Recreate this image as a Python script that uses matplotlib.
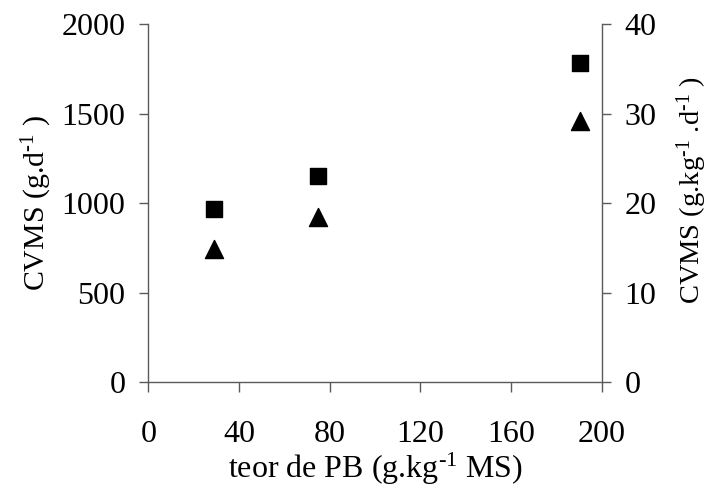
import matplotlib
matplotlib.use("Agg")
import matplotlib.pyplot as plt

# Crude protein content (g/kg DM)
teor_pb = [29.0, 75.0, 190.6]
# Dry matter intake, g/day (left axis, squares)
cvms_gd = [968, 1154, 1783]
# Dry matter intake, g/kg/day (right axis, triangles)
cvms_gkgd = [14.95, 18.5, 29.2]

x_ticks = [0, 40, 80, 120, 160, 200]
y_left_ticks = [0, 500, 1000, 1500, 2000]
y_right_ticks = [0, 10, 20, 30, 40]

plt.rcParams["font.family"] = ["Liberation Serif", "DejaVu Serif"]
plt.rcParams["mathtext.fontset"] = "custom"
plt.rcParams["mathtext.rm"] = "Liberation Serif"
plt.rcParams["mathtext.it"] = "Liberation Serif:italic"

spine_col = "#5a5a5a"
fs_tick = 23
sup = "$^{\\text{-1}}$"

fig = plt.figure(figsize=(7.13, 4.91), dpi=100)
ax = fig.add_axes([0.208, 0.221, 0.636, 0.7295])
ax2 = ax.twinx()

ax.scatter(teor_pb, cvms_gd, marker="s", s=128, color="black", zorder=3)
ax2.scatter(teor_pb, cvms_gkgd, marker="^", s=169, color="black", zorder=3)

ax.set_xlim(0, 200)
ax.set_ylim(0, 2000)
ax2.set_ylim(0, 40)
ax.set_xticks(x_ticks)
ax.set_yticks(y_left_ticks)
ax2.set_yticks(y_right_ticks)

for a in (ax, ax2):
    a.spines["top"].set_visible(False)
    for s in ("left", "right", "bottom"):
        a.spines[s].set_color(spine_col)
        a.spines[s].set_linewidth(1.0)
ax.spines["right"].set_visible(False)
ax2.spines["left"].set_visible(False)
ax2.spines["bottom"].set_visible(False)

ax.tick_params(axis="x", direction="out", length=7, width=1, color=spine_col,
               labelsize=fs_tick, pad=20)
ax.tick_params(axis="y", direction="out", length=6.5, width=1, color=spine_col,
               labelsize=fs_tick, pad=10)
ax2.tick_params(axis="y", direction="out", length=6.5, width=1, color=spine_col,
                labelsize=fs_tick, pad=10)

ax.set_xlabel("teor de PB (g.kg" + sup + " MS)", fontsize=23, labelpad=1)
ax.set_ylabel("CVMS (g.d" + sup + " )", fontsize=21.5, labelpad=5)
ax2.set_ylabel("CVMS (g.kg" + sup + " .d" + sup + " )", fontsize=20.5, labelpad=13)
ax2.yaxis.label.set_y(0.537)

fig.savefig("out.png", dpi=100)
